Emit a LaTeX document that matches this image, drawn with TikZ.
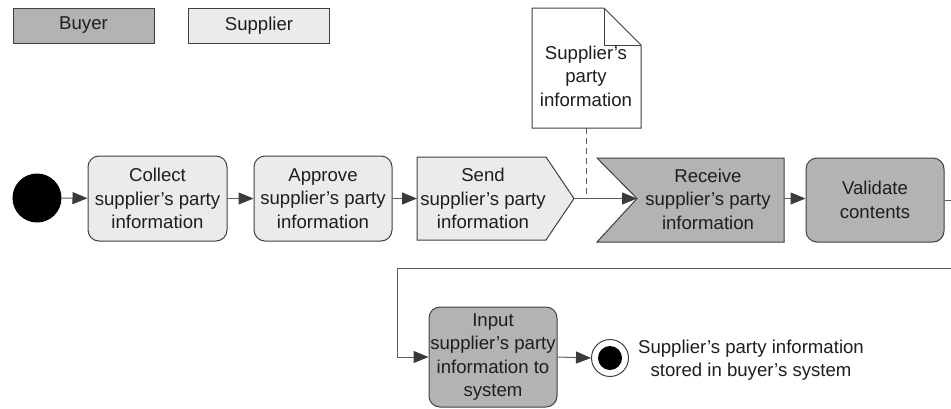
\documentclass[tikz,border=0pt]{standalone}
\usepackage{fontspec}
\setmainfont{Liberation Sans}
\usetikzlibrary{arrows.meta}
\definecolor{buyer}{HTML}{B3B3B3}
\definecolor{supp}{HTML}{EBEBEB}
\definecolor{edge}{HTML}{404040}
\definecolor{txt}{HTML}{1E1E1E}
\begin{document}
\begin{tikzpicture}[x=1pt,y=-1pt,
  every node/.style={font=\fontsize{18.6}{23.5}\selectfont, text=txt, align=center},
  box/.style={draw=edge, line width=1pt, rounded corners=11pt, inner sep=0pt},
  buyerbox/.style={box, fill=buyer},
  suppbox/.style={box, fill=supp},
  legend/.style={draw=edge, line width=1pt, inner sep=0pt, minimum width=141pt, minimum height=35pt},
  shp/.style={draw=edge, line width=1pt},
  flow/.style={draw=edge!85, line width=1pt, -{Triangle[length=15pt,width=12pt,color=edge!90!black]}},
  plain/.style={draw=edge!85, line width=1pt},
  txtonly/.style={inner sep=0pt}]
\useasboundingbox (0,0) rectangle (951,408);
\clip (0,0) rectangle (951,408);
% legend
\node[legend, fill=buyer] (lbuyer) at (83.5,25.5) {Buyer};
\node[legend, fill=supp] (lsupp) at (259,25.5) {Supplier};
% start
\node[circle, fill=black, minimum size=49pt, inner sep=0pt] (start) at (37,198) {};
% collect, approve
\node[suppbox, minimum width=139pt, minimum height=85pt] (collect) at (157.5,198.5) {Collect\\supplier’s party\\information};
\node[suppbox, minimum width=138pt, minimum height=85pt] (approve) at (323,198.5) {Approve\\supplier’s party\\information};
% send (pentagon)
\coordinate (sendL) at (417,198.5);
\coordinate (sendT) at (574,198.5);
\draw[shp, fill=supp] (417,157) -- (546,157) -- (sendT) -- (546,240) -- (417,240) -- cycle;
\node[txtonly] (send) at (483,198.5) {Send\\supplier’s party\\information};
% document
\coordinate (docB) at (586,128);
\draw[shp, fill=white] (532,8) -- (604,8) -- (641,45) -- (641,128) -- (532,128) -- cycle;
\draw[shp] (604,8) -- (604,45) -- (641,45);
\node[txtonly] (doc) at (586,76) {Supplier’s\\party\\information};
% receive
\coordinate (recN) at (637,198.5);
\coordinate (recR) at (784,198.5);
\draw[shp, fill=buyer] (597,158) -- (784,158) -- (784,242) -- (597,242) -- (recN) -- cycle;
\node[txtonly] (receive) at (708,199) {Receive\\supplier’s party\\information};
% validate
\node[buyerbox, minimum width=138pt, minimum height=84pt] (validate) at (875,200) {Validate\\contents};
% input
\node[buyerbox, minimum width=128pt, minimum height=100pt] (input) at (493,357) {Input\\supplier’s party\\information to\\system};
% end
\node[circle, draw=edge, line width=1pt, fill=white, minimum size=37pt, inner sep=0pt] (end) at (610,358) {};
\node[circle, fill=black, minimum size=24pt, inner sep=0pt] at (end) {};
\node[txtonly] (endlabel) at (751,360) {Supplier’s party information\\stored in buyer’s system};
% connectors
\draw[flow] (start) -- (collect);
\draw[flow] (collect) -- (approve);
\draw[flow] (approve) -- (sendL);
\draw[flow] (sendT) -- (recN);
\draw[plain, dash pattern=on 6pt off 4pt] (docB) -- (586,198.5);
\draw[flow] (recR) -- (validate.west|-recR);
\coordinate (offR) at (970,268);
\draw[flow] (validate.east) -| (offR) -| (397,357) -- (input.west);
\draw[flow] (input.east) -- (end.west);
\end{tikzpicture}
\end{document}
